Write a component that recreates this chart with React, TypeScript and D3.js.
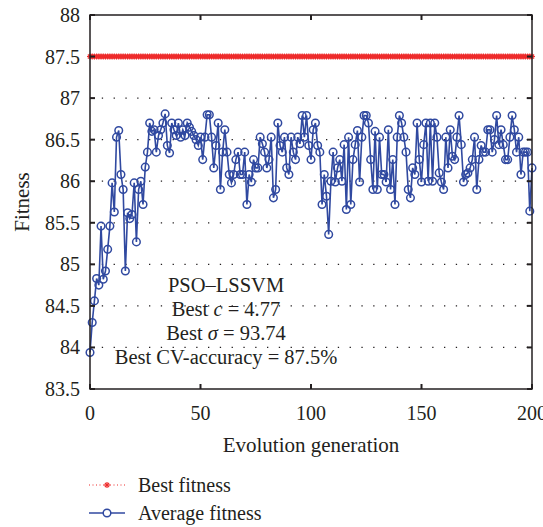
import React from 'react';
import { scaleLinear, line } from 'd3';

const yTicks = [83.5, 84, 84.5, 85, 85.5, 86, 86.5, 87, 87.5, 88];
const xTicks = [0, 50, 100, 150, 200];
const gridTicks = [84, 84.5, 85, 85.5, 86, 86.5, 87];

const bestFitness = 87.5;

// average fitness per generation, 0..200
const averageFitness = [
  83.94, 84.3, 84.56, 84.83, 84.75, 85.46, 84.82, 84.92, 85.18, 85.46,
  85.98, 85.63, 86.53, 86.61, 86.08, 85.9, 84.92, 85.62, 85.55, 85.6,
  85.98, 85.27, 85.9, 86.0, 85.72, 86.17, 86.35, 86.7, 86.6, 86.62,
  86.35, 86.55, 86.62, 86.7, 86.81, 86.43, 86.34, 86.7, 86.62, 86.55,
  86.7, 86.53, 86.62, 86.55, 86.7, 86.65, 86.6, 86.55, 86.5, 86.43,
  86.53, 86.26, 86.53, 86.8, 86.8, 86.53, 86.16, 86.43, 86.7, 85.9,
  86.35, 86.62, 86.35, 86.08, 85.98, 86.08, 86.26, 86.35, 86.08, 86.08,
  86.35, 85.72, 86.08, 85.99, 86.26, 86.16, 86.16, 86.53, 86.45, 86.35,
  86.16, 86.26, 86.53, 85.8, 85.9, 86.7, 86.43, 86.35, 86.53, 86.16,
  86.08, 86.53, 86.35, 86.26, 86.53, 86.45, 86.79, 86.53, 86.79, 86.43,
  86.26, 86.62, 86.7, 86.43, 86.35, 85.72, 86.08, 85.82, 85.36, 86.0,
  86.35, 85.99, 86.16, 86.26, 86.0, 86.44, 85.66, 86.53, 85.72, 86.26,
  86.44, 86.61, 85.99, 86.53, 86.79, 86.79, 86.7, 86.26, 85.9, 86.6,
  85.9, 86.53, 86.08, 86.08, 85.99, 86.62, 85.9, 86.26, 85.72, 86.53,
  86.79, 86.7, 86.53, 86.35, 85.9, 85.8, 86.16, 86.08, 86.7, 86.26,
  85.99, 86.44, 86.7, 86.0, 86.7, 86.0, 86.7, 86.53, 86.1, 85.99,
  85.9, 86.53, 86.16, 86.62, 86.3, 86.26, 86.53, 86.79, 86.44, 85.99,
  86.08, 86.1, 86.16, 86.26, 86.53, 85.9, 86.26, 86.43, 86.35, 86.35,
  86.62, 86.62, 86.35, 86.5, 86.79, 86.44, 86.62, 86.44, 86.26, 86.26,
  86.53, 86.79, 86.62, 86.35, 86.53, 86.08, 86.35, 86.35, 86.35, 85.64,
  86.16,
];

const blue = '#3049a0';
const red = '#ee2b2b';
const ink = '#231f20';
const font = '"Liberation Serif", "DejaVu Serif", serif';

const left = 90;
const right = 532;
const top = 15;
const bottom = 389;

function Star({ x, y }: { x: number; y: number }) {
  const r = 3;
  return (
    <g stroke={red} strokeWidth={1.2}>
      <line x1={x - r} x2={x + r} y1={y} y2={y} />
      <line x1={x} x2={x} y1={y - r} y2={y + r} />
      <line x1={x - r * 0.7} x2={x + r * 0.7} y1={y - r * 0.7} y2={y + r * 0.7} />
      <line x1={x - r * 0.7} x2={x + r * 0.7} y1={y + r * 0.7} y2={y - r * 0.7} />
    </g>
  );
}

export default function App() {
  const x = scaleLinear().domain([0, 200]).range([left, right]);
  const y = scaleLinear().domain([83.5, 88]).range([bottom, top]);

  const avgLine = line<number>()
    .x((d, i) => x(i))
    .y((d) => y(d));

  const gens = averageFitness.map((_, i) => i);

  return (
    <svg
      width={543}
      height={527}
      style={{ position: 'absolute', left: 0, top: 0, background: '#fff' }}
      fontFamily={font}
    >
      {/* dotted grid */}
      {gridTicks.map((t) => (
        <line
          key={t}
          x1={left}
          x2={right}
          y1={y(t)}
          y2={y(t)}
          stroke={ink}
          strokeWidth={1.3}
          strokeDasharray="1.3 10.5"
        />
      ))}

      {/* best fitness */}
      <line
        x1={x(0)}
        x2={x(200)}
        y1={y(bestFitness)}
        y2={y(bestFitness)}
        stroke={red}
        strokeWidth={1}
        strokeDasharray="1 2"
      />
      {gens.map((g) => (
        <Star key={g} x={x(g)} y={y(bestFitness)} />
      ))}

      {/* average fitness */}
      <path d={avgLine(averageFitness) || ''} fill="none" stroke={blue} strokeWidth={1.6} />
      {averageFitness.map((v, i) => (
        <circle key={i} cx={x(i)} cy={y(v)} r={3.8} fill="none" stroke={blue} strokeWidth={1.5} />
      ))}

      {/* frame */}
      <rect x={left} y={top} width={right - left} height={bottom - top} fill="none" stroke={ink} strokeWidth={1.5} />

      {/* y ticks */}
      {yTicks.map((t) => (
        <g key={t}>
          <line x1={left} x2={left + 5} y1={y(t)} y2={y(t)} stroke={ink} strokeWidth={2} />
          <line x1={right - 5} x2={right} y1={y(t)} y2={y(t)} stroke={ink} strokeWidth={2} />
          <text x={left - 10} y={y(t)} dy="0.35em" textAnchor="end" fontSize={20} fill={ink}>
            {t}
          </text>
        </g>
      ))}

      {/* x ticks */}
      {xTicks.map((t) => (
        <g key={t}>
          <line x1={x(t)} x2={x(t)} y1={bottom} y2={bottom - 5} stroke={ink} strokeWidth={2} />
          <line x1={x(t)} x2={x(t)} y1={top} y2={top + 5} stroke={ink} strokeWidth={2} />
          <text x={x(t)} y={bottom + 24} dy="0.35em" textAnchor="middle" fontSize={20} fill={ink}>
            {t}
          </text>
        </g>
      ))}

      {/* axis titles */}
      <text x={311} y={445} dy="0.35em" textAnchor="middle" fontSize={21} fill={ink}>
        Evolution generation
      </text>
      <text
        transform={`translate(22,${(top + bottom) / 2}) rotate(-90)`}
        dy="0.35em"
        textAnchor="middle"
        fontSize={21}
        fill={ink}
      >
        Fitness
      </text>

      {/* annotation */}
      <g fontSize={20.5} fill={ink} textAnchor="middle">
        <text x={226} y={285} dy="0.35em">PSO–LSSVM</text>
        <text x={226} y={309} dy="0.35em">
          Best <tspan fontStyle="italic">c</tspan> = 4.77
        </text>
        <text x={226} y={333} dy="0.35em">
          Best <tspan fontStyle="italic">σ</tspan> = 93.74
        </text>
        <text x={226} y={357} dy="0.35em">Best CV-accuracy = 87.5%</text>
      </g>

      {/* legend */}
      <g>
        <line x1={89} x2={125} y1={485} y2={485} stroke={red} strokeWidth={1} strokeDasharray="1 2.5" />
        <Star x={107} y={485} />
        <text x={138} y={485} dy="0.35em" fontSize={20} fill={ink}>Best fitness</text>
        <line x1={89} x2={125} y1={513} y2={513} stroke={blue} strokeWidth={1.6} />
        <circle cx={107} cy={513} r={3.8} fill="#fff" stroke={blue} strokeWidth={1.5} />
        <text x={138} y={513} dy="0.35em" fontSize={20} fill={ink}>Average fitness</text>
      </g>
    </svg>
  );
}
